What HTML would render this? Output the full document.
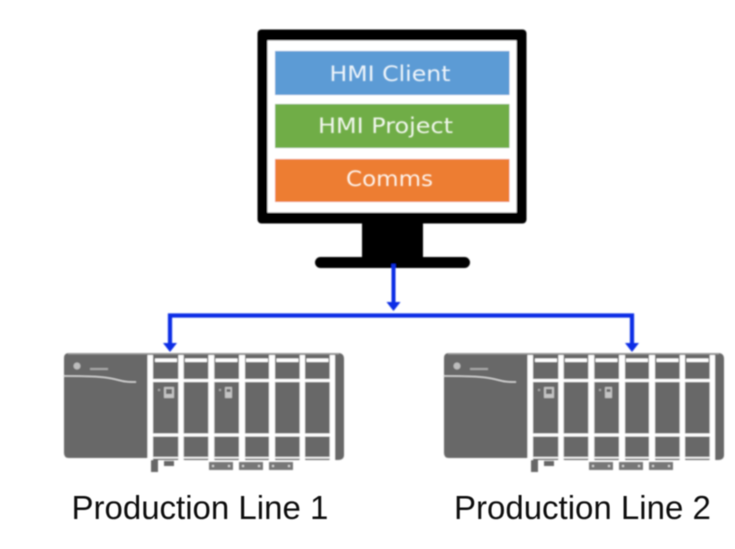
<!DOCTYPE html>
<html><head><meta charset="utf-8"><style>html,body{margin:0;padding:0;background:#fff}svg{display:block}</style></head>
<body>
<svg width="735" height="549" viewBox="0 0 735 549" xmlns="http://www.w3.org/2000/svg">
<defs>
<filter id="b" x="-5%" y="-5%" width="110%" height="110%"><feGaussianBlur stdDeviation="0.7"/></filter>
<filter id="t" x="-5%" y="-20%" width="110%" height="140%"><feGaussianBlur stdDeviation="0.6"/></filter>
<g id="plc">
<path d="M69 353H338Q344 353 344 359V455Q344 460 338 460H150V458H69Q64 458 64 453V358Q64 353 69 353Z" fill="#686868"/>
<rect x="68" y="353" width="271" height="1.500" fill="#9a9a9a"/>
<path d="M63 376C95 376 108 377 118 380C125 382 130 382 136 382" fill="none" stroke="#e2e2e2" stroke-width="1.300"/>
<rect x="147.500" y="355" width="5.500" height="105" fill="#fff"/>
<rect x="178.300" y="355" width="5.400" height="105" fill="#fff"/>
<rect x="208.300" y="355" width="6" height="105" fill="#fff"/>
<rect x="239" y="355" width="6" height="105" fill="#fff"/>
<rect x="269" y="355" width="6" height="105" fill="#fff"/>
<rect x="299.700" y="355" width="5.300" height="105" fill="#fff"/>
<rect x="329.700" y="355" width="5.300" height="105" fill="#fff"/>
<rect x="148" y="379" width="187" height="3" fill="#fff"/>
<rect x="148" y="433.500" width="187" height="3" fill="#fff"/>
<rect x="148" y="457" width="187" height="1.500" fill="#fff"/>
<g fill="#fff">
<rect x="155" y="358.500" width="22" height="3.500"/><rect x="185" y="358.500" width="22" height="3.500"/>
<rect x="215.500" y="358.500" width="22" height="3.500"/><rect x="246" y="358.500" width="22" height="3.500"/>
<rect x="276.500" y="358.500" width="22" height="3.500"/><rect x="306.500" y="358.500" width="22" height="3.500"/>
</g>
<circle cx="77" cy="366" r="3.500" fill="#bdbdbd"/>
<rect x="90" y="368" width="18" height="2" fill="#a8a8a8"/>
<rect x="164" y="387" width="10" height="11" fill="#c4c4c4"/><rect x="166" y="389" width="6" height="5" fill="#686868"/>
<rect x="225" y="387" width="7" height="11" fill="#c4c4c4"/><rect x="226.500" y="389" width="4" height="3" fill="#686868"/>
<rect x="158" y="389" width="2" height="2" fill="#aaa"/><rect x="219" y="389" width="2" height="2" fill="#aaa"/>
<rect x="151" y="460" width="7" height="12" fill="#666"/>
<rect x="164" y="461" width="10" height="5" fill="#666"/>
<rect x="209" y="462" width="24" height="8" fill="#777"/>
<rect x="239" y="462" width="24" height="8" fill="#777"/>
<rect x="269" y="462" width="24" height="8" fill="#777"/>
<g fill="#ddd">
<rect x="212" y="465" width="2" height="2"/><rect x="228" y="465" width="2" height="2"/>
<rect x="242" y="465" width="2" height="2"/><rect x="258" y="465" width="2" height="2"/>
<rect x="272" y="465" width="2" height="2"/><rect x="288" y="465" width="2" height="2"/>
</g>
</g>
</defs>
<rect width="735" height="549" fill="#fff"/>
<g filter="url(#b)">
<rect x="257.500" y="29.500" width="269" height="194" rx="4" fill="#000"/>
<rect x="267.500" y="40.500" width="249" height="172" fill="#fff"/>
<rect x="275" y="51" width="234.500" height="44" fill="#5b9bd5"/>
<rect x="275" y="104" width="234.500" height="44" fill="#70ad47"/>
<rect x="275" y="159" width="234.500" height="43" fill="#ed7d31"/>
<rect x="362" y="222" width="61" height="38" fill="#000"/>
<rect x="315" y="257" width="155" height="11" rx="5.500" fill="#000"/>
<path d="M393.500 264V304" stroke="#0a2ee6" stroke-width="4" fill="none"/>
<path d="M386.500 302H400.500L393.500 311Z" fill="#0a2ee6"/>
<path d="M170 346V315.500H632V346" stroke="#0a2ee6" stroke-width="4.200" fill="none"/>
<path d="M163 343H177L170 352Z" fill="#0a2ee6"/>
<path d="M625 343H639L632 352Z" fill="#0a2ee6"/>
<use href="#plc"/>
<use href="#plc" x="380"/>
</g>
<g font-family="'DejaVu Sans',sans-serif" font-size="21" fill="#fff" fill-opacity="0.9" text-anchor="middle" filter="url(#b)">
<text x="390" y="81" textLength="121" lengthAdjust="spacingAndGlyphs">HMI Client</text>
<text x="385.500" y="133" textLength="135" lengthAdjust="spacingAndGlyphs">HMI Project</text>
<text x="389.500" y="186" textLength="87" lengthAdjust="spacingAndGlyphs">Comms</text>
</g>
<g font-family="'Liberation Sans',sans-serif" font-size="33" fill="#111" filter="url(#t)">
<text x="71.500" y="519">Production Line 1</text>
<text x="454" y="519">Production Line 2</text>
</g>
</svg>
</body></html>
